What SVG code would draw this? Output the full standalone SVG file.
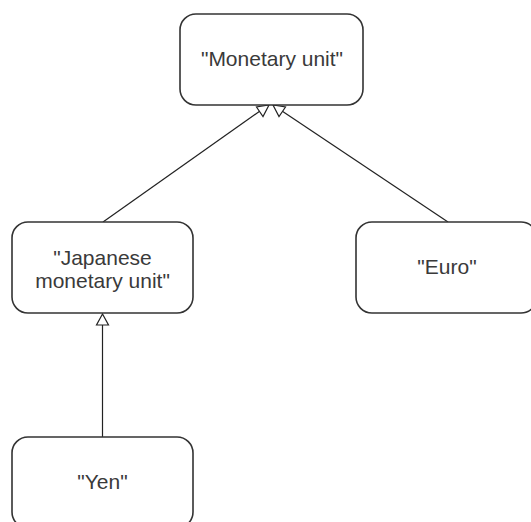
<svg xmlns="http://www.w3.org/2000/svg" width="531" height="522" viewBox="0 0 531 522">
  <style>
    .box { fill: #ffffff; stroke: #333333; stroke-width: 1.6; }
    .lbl { font-family: "Liberation Sans", Arial, sans-serif; font-size: 21px; fill: #3a3a3a; text-anchor: middle; }
    .edge { stroke: #222222; stroke-width: 1.2; fill: none; }
    .head { fill: #ffffff; stroke: #222222; stroke-width: 1.2; stroke-linejoin: miter; }
  </style>
  <rect width="531" height="522" fill="#ffffff"/>

  <g id="connectors">
    <!-- Japanese monetary unit -> Monetary unit -->
    <line class="edge" x1="103" y1="222" x2="260" y2="111"/>
    <polygon class="head" points="269,105 256.5,107 263,116.5"/>
    <!-- Euro -> Monetary unit -->
    <line class="edge" x1="448" y1="222" x2="282" y2="111"/>
    <polygon class="head" points="273,105 285.5,107 279,116.5"/>
    <!-- Yen -> Japanese monetary unit -->
    <line class="edge" x1="102.5" y1="437" x2="102.5" y2="325"/>
    <polygon class="head" points="102.5,314 96.5,325 108.5,325"/>
  </g>

  <g id="monetary-unit">
    <rect class="box" x="180" y="14" width="183" height="91" rx="16" ry="16"/>
    <text class="lbl" x="272" y="66">"Monetary unit"</text>
  </g>

  <g id="japanese-monetary-unit">
    <rect class="box" x="12" y="222" width="181" height="91" rx="16" ry="16"/>
    <text class="lbl" x="102.5" y="265">"Japanese</text>
    <text class="lbl" x="102.5" y="288">monetary unit"</text>
  </g>

  <g id="euro">
    <rect class="box" x="356" y="222" width="181" height="91" rx="16" ry="16"/>
    <text class="lbl" x="447" y="274">"Euro"</text>
  </g>

  <g id="yen">
    <rect class="box" x="12" y="437" width="181" height="91" rx="16" ry="16"/>
    <text class="lbl" x="102.5" y="489">"Yen"</text>
  </g>
</svg>
